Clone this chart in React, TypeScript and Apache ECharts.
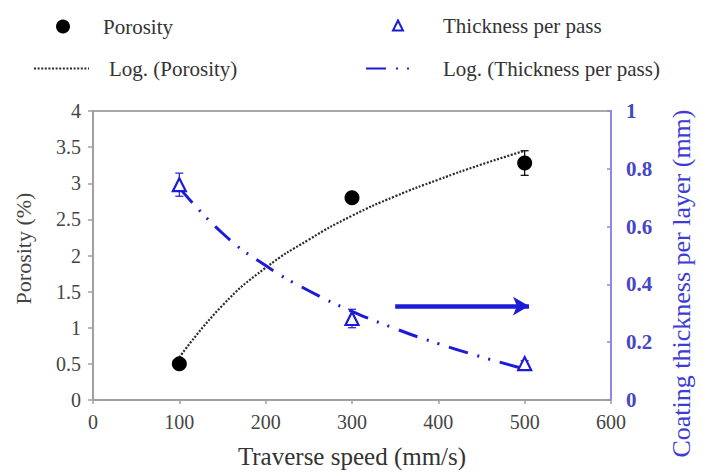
import React, { useEffect, useRef } from "react";
import * as echarts from "echarts";

const speeds = [100, 300, 500];
const porosity = [0.5, 2.8, 3.28];
const porosityErr = [0.03, 0.06, 0.17];
const thickness = [0.745, 0.282, 0.126];
const thicknessErr = [0.04, 0.032, 0.01];

const trendX = [100, 150, 200, 250, 300, 350, 400, 450, 500];
const porosityTrend = [0.59, 1.31, 1.83, 2.22, 2.55, 2.82, 3.05, 3.26, 3.45];
const thicknessTrend = [0.735, 0.577, 0.465, 0.378, 0.307, 0.247, 0.195, 0.149, 0.107];

const arrowStart = [350, 0.325];
const arrowEnd = [505, 0.325];

const FONT = "Liberation Serif";
const BLUE = "#1c1cd8";

function errorRender(color: string) {
  return (params: any, api: any) => {
    const x = api.value(0);
    const lo = api.coord([x, api.value(1)]);
    const hi = api.coord([x, api.value(2)]);
    const w = 4;
    return {
      type: "group",
      children: [
        { type: "line", shape: { x1: lo[0], y1: lo[1], x2: hi[0], y2: hi[1] }, style: { stroke: color, lineWidth: 1.2 } },
        { type: "line", shape: { x1: hi[0] - w, y1: hi[1], x2: hi[0] + w, y2: hi[1] }, style: { stroke: color, lineWidth: 1.2 } },
        { type: "line", shape: { x1: lo[0] - w, y1: lo[1], x2: lo[0] + w, y2: lo[1] }, style: { stroke: color, lineWidth: 1.2 } },
      ],
    };
  };
}

export default function App() {
  const ref = useRef<HTMLDivElement>(null);
  useEffect(() => {
    if (!ref.current) return;
    const chart = echarts.init(ref.current, null, { renderer: "svg" });
    const legendText = (pad: number) => ({ fontFamily: FONT, fontSize: 21, color: "#333", padding: [0, 0, 0, pad] });
    const hiddenSymbol = { color: "rgba(0,0,0,0)", borderColor: "rgba(0,0,0,0)", borderWidth: 0 };
    chart.setOption({
      animation: false,
      backgroundColor: "#fff",
      textStyle: { fontFamily: FONT },
      legend: [
        { data: ["Porosity"], left: 51, top: 11, itemWidth: 14, itemHeight: 14, textStyle: legendText(28) },
        { data: ["Thickness per pass"], left: 387, top: 10, itemWidth: 10, itemHeight: 10, textStyle: legendText(35) },
        { data: ["Log. (Porosity)"], left: 28, top: 53, itemWidth: 55, itemHeight: 14, itemStyle: hiddenSymbol, textStyle: legendText(15) },
        { data: ["Log. (Thickness per pass)"], left: 360, top: 53, itemWidth: 53, itemHeight: 14, itemStyle: hiddenSymbol, textStyle: legendText(19) },
      ],
      grid: { left: 93, right: 84, top: 111, bottom: 70, show: true, borderColor: "#a8a8a8", borderWidth: 2 },
      xAxis: {
        type: "value",
        min: 0,
        max: 600,
        interval: 100,
        name: "Traverse speed (mm/s)",
        nameLocation: "middle",
        nameGap: 44,
        nameTextStyle: { fontFamily: FONT, fontSize: 25, color: "#333" },
        axisLine: { lineStyle: { color: "#a0a0a0", width: 2 } },
        axisTick: { show: true, length: 4, lineStyle: { color: "#a0a0a0", width: 1.5 } },
        axisLabel: { fontFamily: FONT, fontSize: 20, color: "#444", margin: 12 },
        splitLine: { show: false },
      },
      yAxis: [
        {
          type: "value",
          min: 0,
          max: 4,
          interval: 0.5,
          name: "Porosity (%)",
          nameLocation: "middle",
          nameGap: 59,
          nameTextStyle: { fontFamily: FONT, fontSize: 22, color: "#444", padding: [0, 0, 0, 14] },
          axisLine: { show: true, lineStyle: { color: "#a0a0a0", width: 2 } },
          axisTick: { show: true, length: 5, lineStyle: { color: "#a0a0a0", width: 1.5 } },
          axisLabel: { fontFamily: FONT, fontSize: 20, color: "#444", margin: 12 },
          splitLine: { show: false },
        },
        {
          type: "value",
          min: 0,
          max: 1,
          interval: 0.2,
          position: "right",
          name: "Coating thickness per layer (mm)",
          nameLocation: "middle",
          nameGap: 57,
          nameRotate: 90,
          nameTextStyle: { fontFamily: FONT, fontSize: 26, color: "#3c3cd6", padding: [0, 56, 0, 0] },
          axisLine: { show: true, lineStyle: { color: "#8a8ae6", width: 2 } },
          axisTick: { show: true, inside: true, length: 4, lineStyle: { color: "#8a8ae6", width: 1.5 } },
          axisLabel: { fontFamily: FONT, fontSize: 21, color: "#4646c8", fontWeight: "bold", margin: 15 },
          splitLine: { show: false },
        },
      ],
      series: [
        {
          name: "Log. (Porosity)",
          type: "line",
          yAxisIndex: 0,
          smooth: true,
          showSymbol: false,
          symbol: "none",
          data: trendX.map((x, i) => [x, porosityTrend[i]]),
          lineStyle: { color: "#2a2a2a", width: 2.2, type: [2, 1.6] },
          itemStyle: { color: "#2a2a2a" },
          z: 2,
        },
        {
          name: "Log. (Thickness per pass)",
          type: "line",
          yAxisIndex: 1,
          smooth: true,
          showSymbol: false,
          symbol: "none",
          data: trendX.map((x, i) => [x, thicknessTrend[i]]),
          lineStyle: { color: BLUE, width: 3, type: [20, 10, 2, 9, 2, 10] },
          itemStyle: { color: BLUE },
          z: 2,
        },
        {
          type: "custom",
          yAxisIndex: 0,
          renderItem: errorRender("#000"),
          data: speeds.map((x, i) => [x, porosity[i] - porosityErr[i], porosity[i] + porosityErr[i]]),
          z: 1,
        },
        {
          type: "custom",
          yAxisIndex: 1,
          renderItem: errorRender(BLUE),
          data: speeds.map((x, i) => [x, thickness[i] - thicknessErr[i], thickness[i] + thicknessErr[i]]),
          z: 1,
        },
        {
          name: "Porosity",
          type: "scatter",
          yAxisIndex: 0,
          symbol: "circle",
          symbolSize: 15,
          data: speeds.map((x, i) => [x, porosity[i]]),
          itemStyle: { color: "#000", opacity: 1 },
          z: 10,
        },
        {
          name: "Thickness per pass",
          type: "scatter",
          yAxisIndex: 1,
          symbol: "triangle",
          symbolSize: 13,
          data: speeds.map((x, i) => [x, thickness[i]]),
          itemStyle: { color: "#fff", borderColor: BLUE, borderWidth: 2.2, opacity: 1 },
          z: 10,
          markLine: {
            silent: true,
            symbol: ["none", "arrow"],
            symbolSize: [14, 16],
            label: { show: false },
            lineStyle: { color: BLUE, width: 4.5, type: "solid", opacity: 1 },
            data: [[{ coord: arrowStart }, { coord: arrowEnd }]],
          },
        },
      ],
    });
    return () => chart.dispose();
  }, []);
  return <div ref={ref} style={{ width: 702, height: 474, position: "fixed", left: 0, top: 0 }} />;
}
